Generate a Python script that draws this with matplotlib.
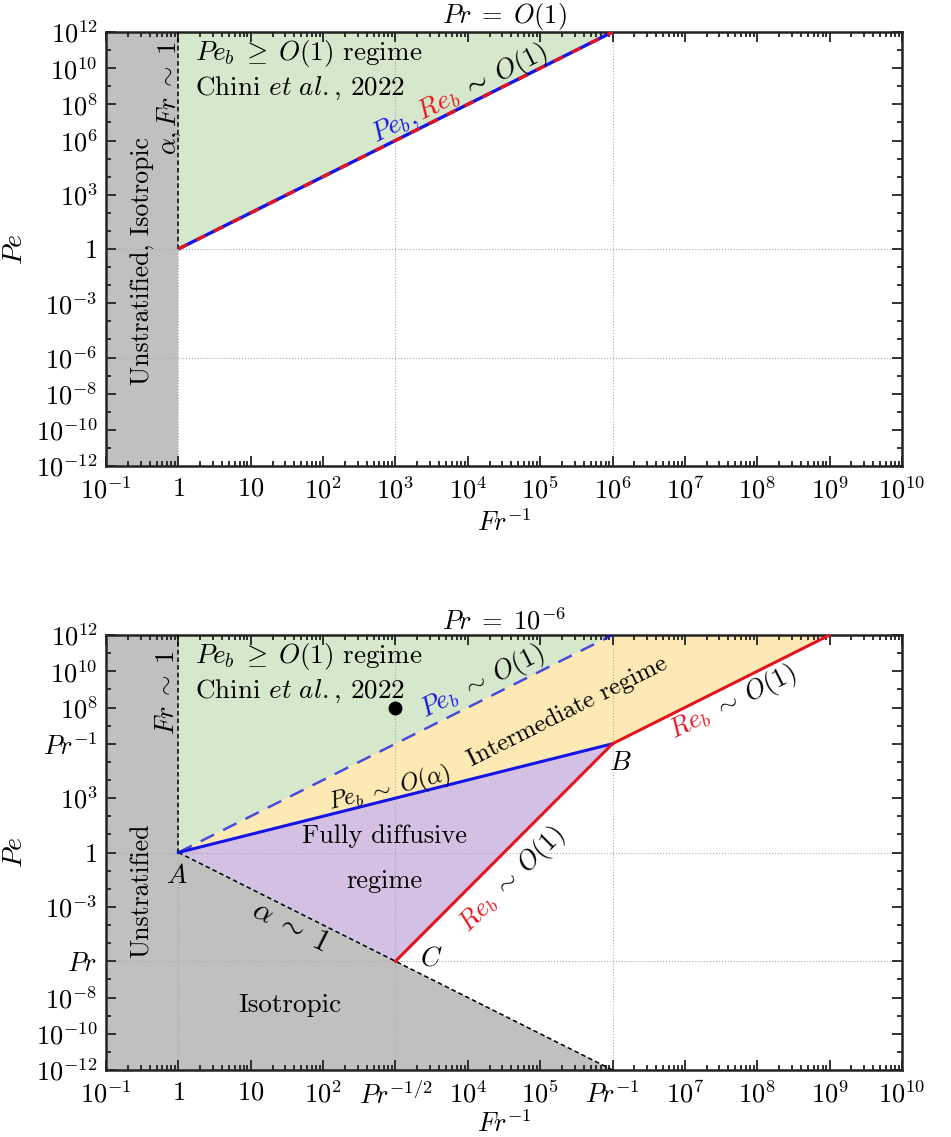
import numpy as np
import matplotlib
matplotlib.use("Agg")
import matplotlib.pyplot as plt
from matplotlib.ticker import FixedLocator, NullFormatter

plt.rcParams['mathtext.fontset'] = 'cm'
plt.rcParams['font.family'] = ['cmr10', 'DejaVu Serif']
plt.rcParams['axes.formatter.use_mathtext'] = True

# ---------------- data ----------------
x_ticks = [1e-1, 1, 1e1, 1e2, 1e3, 1e4, 1e5, 1e6, 1e7, 1e8, 1e9, 1e10]
x_labels_top = [r'$10^{-1}$', r'$1$', r'$10$', r'$10^{2}$', r'$10^{3}$', r'$10^{4}$',
                r'$10^{5}$', r'$10^{6}$', r'$10^{7}$', r'$10^{8}$', r'$10^{9}$', r'$10^{10}$']
x_labels_bot = [r'$10^{-1}$', r'$1$', r'$10$', r'$10^{2}$', r'$Pr^{-1/2}$', r'$10^{4}$',
                r'$10^{5}$', r'$Pr^{-1}$', r'$10^{7}$', r'$10^{8}$', r'$10^{9}$', r'$10^{10}$']
y_ticks = [1e12, 1e10, 1e8, 1e6, 1e3, 1, 1e-3, 1e-6, 1e-8, 1e-10, 1e-12]
y_labels_top = [r'$10^{12}$', r'$10^{10}$', r'$10^{8}$', r'$10^{6}$', r'$10^{3}$', r'$1$',
                r'$10^{-3}$', r'$10^{-6}$', r'$10^{-8}$', r'$10^{-10}$', r'$10^{-12}$']
y_labels_bot = [r'$10^{12}$', r'$10^{10}$', r'$10^{8}$', r'$Pr^{-1}$', r'$10^{3}$', r'$1$',
                r'$10^{-3}$', r'$Pr$', r'$10^{-8}$', r'$10^{-10}$', r'$10^{-12}$']
x_range = [1e-1, 1e10]
y_range = [1e-12, 1e12]
grid_x = [1, 1e3, 1e6]
grid_y = [1, 1e-6]

Pr = 1e-6
A = (1.0, 1.0)                       # Fr ~ 1, Pe ~ 1
B = (Pr**-1, Pr**-1)                 # Fr^-1 = Pe = Pr^-1
C = (Pr**-0.5, Pr)                   # Fr^-1 = Pr^-1/2, Pe = Pr
Peb_end = (1e6, 1e12)                # Pe_b ~ 1 line end
Reb_end = (1e9, 1e12)                # Re_b ~ 1 line end (upper)
alpha_end = (1e6, 1e-12)             # alpha ~ 1 line end
chini_point = (1e3, 1e8)

GRAY = '#c0c0c0'
GREEN = '#d6e8cc'
YELLOW = '#fde9b4'
PURPLE = '#d3c0e2'
BLUE = '#1414e6'
RED = '#e6141e'

FS = 19
TS = 19.5

fig = plt.figure(figsize=(9.51, 11.37), dpi=100)
ax1 = fig.add_axes([106/951, 1-466/1137, 796/951, 434/1137])
ax2 = fig.add_axes([106/951, 1-1070/1137, 796/951, 435/1137])


def style_axes(ax, xl, yl, title, xlabelpad):
    ax.set_xscale('log')
    ax.set_yscale('log')
    ax.set_xlim(x_range)
    ax.set_ylim(y_range)
    ax.xaxis.set_major_locator(FixedLocator(x_ticks))
    ax.set_xticklabels(xl)
    ax.xaxis.set_minor_locator(FixedLocator(
        [m * 10.0**e for e in range(-1, 10) for m in range(2, 10)]))
    ax.xaxis.set_minor_formatter(NullFormatter())
    ax.yaxis.set_major_locator(FixedLocator(y_ticks))
    ax.set_yticklabels(yl)
    ax.yaxis.set_minor_locator(FixedLocator([10.0**e for e in range(-12, 13)]))
    ax.yaxis.set_minor_formatter(NullFormatter())
    ax.tick_params(which='both', direction='in', top=True, right=True,
                   color='#222222', width=1.3)
    ax.tick_params(which='major', length=7, labelsize=FS)
    ax.tick_params(axis='x', which='major', pad=8)
    ax.tick_params(axis='y', which='major', pad=6)
    ax.tick_params(which='minor', length=3.5)
    for s in ax.spines.values():
        s.set_linewidth(1.8)
        s.set_color('#222222')
    for gx in grid_x:
        ax.axvline(gx, color='#aaaaaa', lw=0.8, ls=':', zorder=1.5)
    for gy in grid_y:
        ax.axhline(gy, color='#aaaaaa', lw=0.8, ls=':', zorder=1.5)
    ax.set_xlabel(r'$Fr^{-1}$', fontsize=FS, labelpad=xlabelpad)
    ax.set_ylabel(r'$Pe$', fontsize=FS + 1, labelpad=6)
    ax.set_title(title, fontsize=FS, pad=4)


style_axes(ax1, x_labels_top, y_labels_top, r'$Pr\;=\;O(1)$', 4)
style_axes(ax2, x_labels_bot, y_labels_bot, r'$Pr\;=\;10^{-6}$', 1)

renderer = fig.canvas.get_renderer()


def angle_of(ax, p, q):
    a = ax.transData.transform(p)
    b = ax.transData.transform(q)
    return np.degrees(np.arctan2(b[1] - a[1], b[0] - a[0]))


def pieces_along(ax, center, pieces, angle, size=TS, base_shift=6):
    widths = []
    for s, c in pieces:
        t = fig.text(0, 0, s, fontsize=size)
        widths.append(t.get_window_extent(renderer).width)
        t.remove()
    total = sum(widths)
    th = np.radians(angle)
    d = np.array([np.cos(th), np.sin(th)])
    n = np.array([-np.sin(th), np.cos(th)])
    start = -total / 2 * d - base_shift * n
    cum = 0
    for (s, c), w in zip(pieces, widths):
        off = start + (cum + w / 2) * d
        ax.annotate(s, xy=center, xycoords='data', xytext=(off[0], off[1]),
                    textcoords='offset pixels', ha='center', va='baseline',
                    rotation=angle, rotation_mode='anchor', color=c,
                    fontsize=size, zorder=6)
        cum += w


# ---------------- top panel ----------------
ax1.fill_between([x_range[0], 1], y_range[0], y_range[1], color=GRAY, lw=0, zorder=0.5)
ax1.fill([A[0], A[0], Peb_end[0]], [A[1], y_range[1], Peb_end[1]], color=GREEN, lw=0, zorder=0.5)
ax1.plot([1, 1], [1, y_range[1]], color='k', lw=1.1, dashes=(3, 2), zorder=3)
ax1.plot([A[0], Peb_end[0]], [A[1], Peb_end[1]], color=BLUE, lw=2.4, zorder=4,
         solid_capstyle='butt')
ax1.plot([A[0], Peb_end[0]], [A[1], Peb_end[1]], color=RED, lw=2.4, zorder=4.1,
         dashes=(3, 3))

ax1.text(10**-0.5, 10**-0.65, 'Unstratified, Isotropic', rotation=90,
         ha='center', va='center', fontsize=TS - 1, zorder=6)
ax1.text(10**-0.12, 10**8.35, r'$\alpha,Fr\;\sim\;1$', rotation=90,
         ha='center', va='center', fontsize=TS - 0.5, zorder=6)
ax1.text(10**0.23, 10**10.45, r'$Pe_b\;\geq\;O(1)$ regime', ha='left', va='baseline',
         fontsize=TS, zorder=6)
ax1.text(10**0.23, 10**8.52, r'Chini $\mathit{et\ al.}$, 2022', ha='left', va='baseline',
         fontsize=TS, zorder=6)
ang1 = angle_of(ax1, A, Peb_end)
pieces_along(ax1, (10**3.89, 10**8.52),
             [(r'$Pe_b$', BLUE), (r'$,$', BLUE), (r'$\,Re_b$', RED), (r'$\;\sim\;O(1)$', 'k')],
             ang1)

# ---------------- bottom panel ----------------
ax2.fill([x_range[0], x_range[0], 1, A[0], alpha_end[0]],
         [y_range[0], y_range[1], y_range[1], A[1], alpha_end[1]],
         color=GRAY, lw=0, zorder=0.5)
ax2.fill([A[0], A[0], Peb_end[0]], [A[1], y_range[1], Peb_end[1]], color=GREEN, lw=0, zorder=0.5)
ax2.fill([A[0], Peb_end[0], Reb_end[0], B[0]], [A[1], Peb_end[1], Reb_end[1], B[1]],
         color=YELLOW, lw=0, zorder=0.5)
ax2.fill([A[0], B[0], C[0]], [A[1], B[1], C[1]], color=PURPLE, lw=0, zorder=0.5)

ax2.plot([1, 1], [1, y_range[1]], color='k', lw=1.1, dashes=(3, 2), zorder=3)
ax2.plot([A[0], alpha_end[0]], [A[1], alpha_end[1]], color='k', lw=1.1, dashes=(3, 2), zorder=3)
ax2.plot([A[0], Peb_end[0]], [A[1], Peb_end[1]], color=BLUE, lw=1.8, dashes=(6, 4),
         alpha=0.75, zorder=4)
ax2.plot([A[0], B[0]], [A[1], B[1]], color=BLUE, lw=2.2, zorder=4)
ax2.plot([C[0], B[0], Reb_end[0]], [C[1], B[1], Reb_end[1]], color=RED, lw=2.2, zorder=4)
ax2.plot([chini_point[0]], [chini_point[1]], 'o', color='k', ms=9, zorder=5)

ax2.text(10**-0.5, 10**-2.14, 'Unstratified', rotation=90,
         ha='center', va='center', fontsize=TS - 1, zorder=6)
ax2.text(10**-0.15, 10**8.8, r'$Fr\;\sim\;1$', rotation=90,
         ha='center', va='center', fontsize=TS - 0.5, zorder=6)
ax2.text(10**0.23, 10**10.45, r'$Pe_b\;\geq\;O(1)$ regime', ha='left', va='baseline',
         fontsize=TS, zorder=6)
ax2.text(10**0.23, 10**8.52, r'Chini $\mathit{et\ al.}$, 2022', ha='left', va='baseline',
         fontsize=TS, zorder=6)
ax2.text(10**-0.02, 10**-1.31, r'$A$', ha='center', va='center', fontsize=TS, zorder=6)
ax2.text(10**6.11, 10**4.93, r'$B$', ha='center', va='center', fontsize=TS, zorder=6)
ax2.text(10**3.49, 10**-5.85, r'$C$', ha='center', va='center', fontsize=TS, zorder=6)
ax2.text(10**1.54, 10**-8.44, 'Isotropic', ha='center', va='center', fontsize=TS, zorder=6)
ax2.text(10**2.85, 10**0.9, 'Fully diffusive', ha='center', va='center', fontsize=TS - 0.5, zorder=6)
ax2.text(10**2.85, 10**-1.59, 'regime', ha='center', va='center', fontsize=TS - 0.5, zorder=6)

ang_peb = angle_of(ax2, A, Peb_end)
ang_alpha_b = angle_of(ax2, A, B)
ang_reb_up = angle_of(ax2, B, Reb_end)
ang_reb_cb = angle_of(ax2, C, B)
ang_alpha = angle_of(ax2, A, alpha_end)

ax2.text(10**5.38, 10**7.75, 'Intermediate regime', rotation=ang_peb, rotation_mode='anchor',
         ha='center', va='center', fontsize=18, zorder=6)
pieces_along(ax2, (10**4.21, 10**9.35),
             [(r'$Pe_b$', BLUE), (r'$\;\sim\;O(1)$', 'k')], ang_peb, size=19)
pieces_along(ax2, (10**2.92, 10**3.44),
             [(r'$Pe_b$', 'k'), (r'$\;\sim\;O(\alpha)$', 'k')], ang_alpha_b, size=17, base_shift=5)
pieces_along(ax2, (10**7.67, 10**8.24),
             [(r'$Re_b$', RED), (r'$\;\sim\;O(1)$', 'k')], ang_reb_up, size=19)
pieces_along(ax2, (10**4.62, 10**-1.54),
             [(r'$Re_b$', RED), (r'$\;\sim\;O(1)$', 'k')], ang_reb_cb, size=19)
pieces_along(ax2, (10**1.53, 10**-4.19),
             [(r'$\alpha\;\sim\;1$', 'k')], ang_alpha, size=TS + 2)

fig.savefig('out.png', dpi=100)
